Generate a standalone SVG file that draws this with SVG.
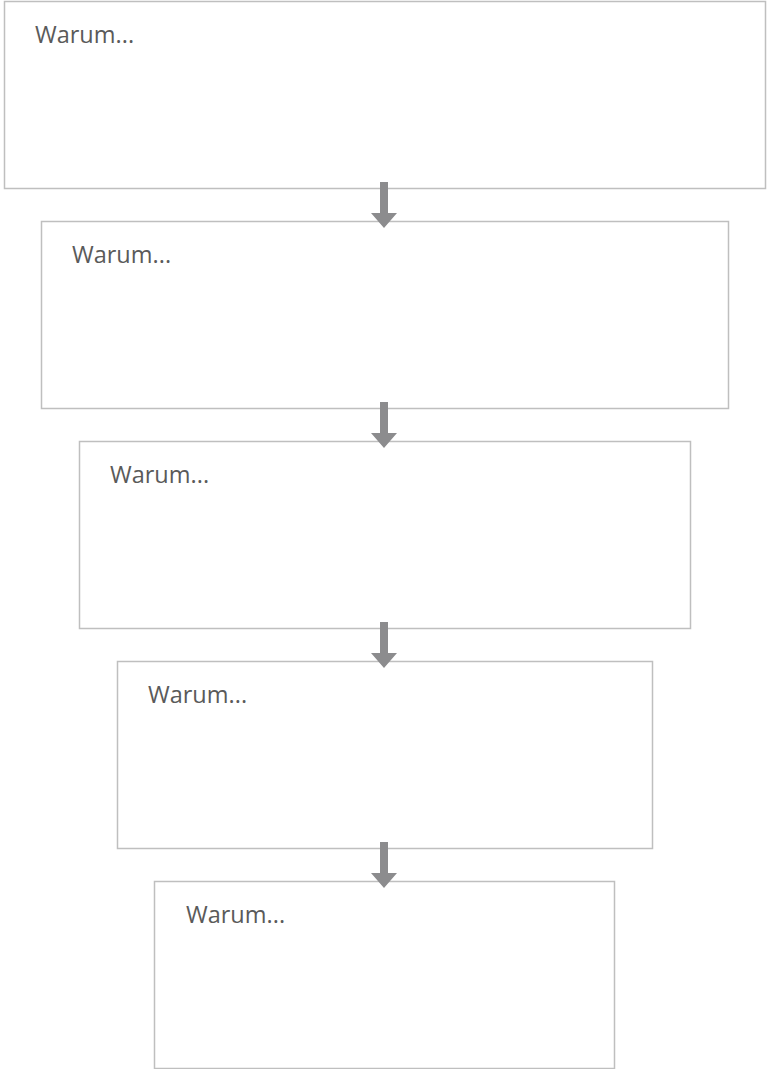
<svg xmlns="http://www.w3.org/2000/svg" width="767" height="1069" viewBox="0 0 767 1069">
<style>
.box{fill:#fff;stroke:#bfbfbf;stroke-width:1.5}
.lbl{font-family:"Open Sans","Noto Sans",sans-serif;font-size:23.5px;fill:#5a5a5a}
.arr{fill:#8c8c8e}
</style>
<rect width="767" height="1069" fill="#fff"/>
<g id="node1"><rect class="box" x="4.5" y="1.5" width="761" height="187"/><text class="lbl" x="35" y="43">Warum...</text></g>
<g id="node2"><rect class="box" x="41.5" y="221.5" width="687" height="187"/><text class="lbl" x="72" y="263">Warum...</text></g>
<g id="node3"><rect class="box" x="79.5" y="441.5" width="611" height="187"/><text class="lbl" x="110" y="483">Warum...</text></g>
<g id="node4"><rect class="box" x="117.5" y="661.5" width="535" height="187"/><text class="lbl" x="148" y="703">Warum...</text></g>
<g id="node5"><rect class="box" x="154.5" y="881.5" width="460" height="187"/><text class="lbl" x="186" y="923">Warum...</text></g>
<g id="connectors">
<path class="arr" d="M380,182 H388 V213 H397 L384,228 L371,213 H380 Z"/>
<path class="arr" d="M380,402 H388 V433 H397 L384,448 L371,433 H380 Z"/>
<path class="arr" d="M380,622 H388 V653 H397 L384,668 L371,653 H380 Z"/>
<path class="arr" d="M380,842 H388 V873 H397 L384,888 L371,873 H380 Z"/>
</g>
</svg>
